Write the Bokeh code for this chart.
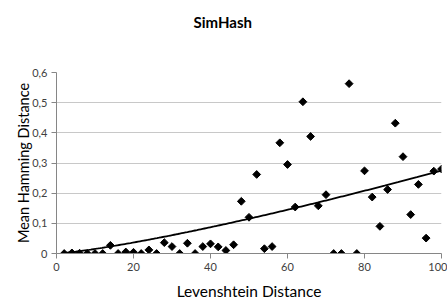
from bokeh.plotting import figure
from bokeh.models import Range1d, FixedTicker, Title, ColumnDataSource
from bokeh.embed import file_html
from bokeh.resources import INLINE
import numpy as np

# Data
lev = [2, 4, 6, 8, 10, 12, 14, 16, 18, 20, 22, 24, 26, 28, 30, 32, 34, 36, 38, 40,
       42, 44, 46, 48, 50, 52, 54, 56, 58, 60, 62, 64, 66, 68, 70, 72, 74, 76, 78, 80,
       82, 84, 86, 88, 90, 92, 94, 96, 98, 100]
ham = [0.0, 0.002, 0.001, 0.0, 0.0, 0.0, 0.027, 0.0, 0.005, 0.004, 0.0, 0.012, 0.0, 0.036,
       0.023, 0.0, 0.034, 0.0, 0.023, 0.032, 0.022, 0.010, 0.029, 0.173, 0.120, 0.262,
       0.016, 0.023, 0.367, 0.295, 0.154, 0.503, 0.388, 0.158, 0.195, 0.0, 0.0, 0.563,
       0.0, 0.274, 0.187, 0.090, 0.212, 0.432, 0.321, 0.129, 0.229, 0.051, 0.273, 0.280]

# Power trendline coefficients (y = a * x^b), read from the drawn trendline
trend_a = 0.00085
trend_b = 1.255

x_ticks = [0, 20, 40, 60, 80, 100]
y_ticks = [0, 0.1, 0.2, 0.3, 0.4, 0.5, 0.6]
y_tick_labels = ["0", "0,1", "0,2", "0,3", "0,4", "0,5", "0,6"]

FONT = "Lato"
AXIS_GRAY = "#868686"

p = figure(width=447, height=303, output_backend="svg", toolbar_location=None,
           x_range=Range1d(0, 100), y_range=Range1d(0, 0.6),
           min_border_left=56, min_border_right=6, min_border_top=72, min_border_bottom=50)
p.outline_line_color = None
p.background_fill_color = "white"
p.border_fill_color = "white"

# spacer between frame and title
p.add_layout(Title(text=" ", text_font_size="21px", text_font=FONT), "above")
p.title = Title(text="SimHash", align="left", offset=137, text_font=FONT,
                text_font_size="15px", text_font_style="bold", text_color="#000000")

tx = np.linspace(lev[0], lev[-1], 200)
ty = trend_a * tx ** trend_b
p.line(tx, ty, line_color="black", line_width=1.8)

src = ColumnDataSource(dict(x=lev, y=ham))
p.scatter("x", "y", source=src, marker="square", angle=np.pi / 4, size=5.5,
          fill_color="black", line_color="black")

p.xaxis.ticker = FixedTicker(ticks=x_ticks)
p.yaxis.ticker = FixedTicker(ticks=y_ticks)
p.yaxis.major_label_overrides = {t: l for t, l in zip(y_ticks, y_tick_labels)}
p.xaxis.axis_label = "Levenshtein Distance"
p.yaxis.axis_label = "Mean Hamming Distance"

for ax in (p.xaxis, p.yaxis):
    ax.axis_line_color = AXIS_GRAY
    ax.major_tick_line_color = AXIS_GRAY
    ax.minor_tick_line_color = None
    ax.major_tick_in = 0
    ax.major_tick_out = 5
    ax.major_label_text_font = FONT
    ax.major_label_text_font_size = "11px"
    ax.major_label_text_color = "#404040"
    ax.axis_label_text_font = FONT
    ax.axis_label_text_font_style = "normal"
    ax.axis_label_text_color = "#000000"

p.xaxis.axis_label_text_font_size = "15.5px"
p.yaxis.axis_label_text_font_size = "14.5px"
p.xaxis.major_label_standoff = 4
p.yaxis.major_label_standoff = 4
p.xaxis.axis_label_standoff = 8
p.yaxis.axis_label_standoff = -3

p.xgrid.grid_line_color = None
p.ygrid.grid_line_color = "#c8c8c8"
p.ygrid.grid_line_width = 1

open("out.html", "w").write(file_html(p, INLINE))
